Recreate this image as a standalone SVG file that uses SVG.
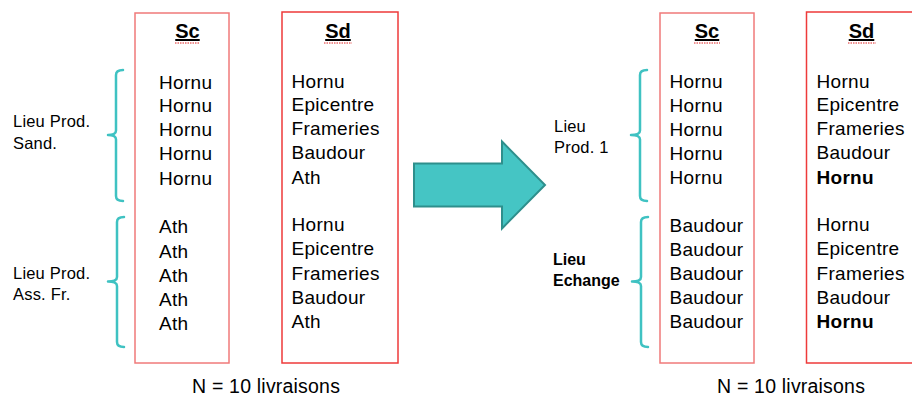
<svg xmlns="http://www.w3.org/2000/svg" width="912" height="396" viewBox="0 0 912 396">
<style>
  .sc { fill: none; stroke: #F07A7A; stroke-width: 1.5; }
  .sd { fill: none; stroke: #EE3A3A; stroke-width: 1.5; }
  .brace { fill: none; stroke: #3FC2C2; stroke-width: 2.5; stroke-linecap: round; stroke-linejoin: round; }
  text { font-family: "Liberation Sans", Arial, sans-serif; fill: #000; }
  .item { font-size: 19px; letter-spacing: 0.3px; }
  .title { font-size: 20px; font-weight: bold; text-anchor: middle; text-decoration: underline; }
  .lbl { font-size: 16.5px; letter-spacing: 0.2px; }
  .lblb { font-size: 16px; font-weight: bold; }
  .n { font-size: 19.5px; letter-spacing: 0.2px; }
  .b { font-weight: bold; }
  .squig { fill: none; stroke: #E02020; stroke-width: 1; stroke-dasharray: 1.5 1; }
</style>
<rect width="912" height="396" fill="#fff"/>

<g id="arrow">
  <path d="M414 163.5 L502 163.5 L502 141.5 L545 185 L502 228.5 L502 206.5 L414 206.5 Z" fill="#45C5C4" stroke="#2E8F8C" stroke-width="2"/>
</g>

<g id="connectors">
  <path class="brace" d="M123 70 Q116 70 116 75 L116 130.5 Q116 135 108 135 Q116 135 116 139.5 L116 196 Q116 201 123 201"/>
  <path class="brace" d="M124 217 Q117 217 117 222 L117 277 Q117 281.5 108 281.5 Q117 281.5 117 286 L117 342 Q117 347 124 347"/>
  <path class="brace" d="M647 70 Q640 70 640 75 L640 130.5 Q640 135 631 135 Q640 135 640 139.5 L640 196 Q640 201 647 201"/>
  <path class="brace" d="M648 217 Q641 217 641 222 L641 277 Q641 281.5 632 281.5 Q641 281.5 641 286 L641 342 Q641 347 648 347"/>
</g>

<g id="labels-left">
  <text class="lbl" x="13" y="126.5">Lieu Prod.</text>
  <text class="lbl" x="13" y="148.5">Sand.</text>
  <text class="lbl" x="13" y="278.5">Lieu Prod.</text>
  <text class="lbl" x="13" y="299.5">Ass. Fr.</text>
</g>

<g id="left-sc">
  <rect class="sc" x="135" y="13" width="94" height="350"/>
  <text class="title" x="187.5" y="38">Sc</text>
  <path class="squig" d="M175 43 L200 43"/>
  <text class="item" x="159" y="88.5">Hornu</text>
  <text class="item" x="159" y="112">Hornu</text>
  <text class="item" x="159" y="136">Hornu</text>
  <text class="item" x="159" y="160">Hornu</text>
  <text class="item" x="159" y="184.5">Hornu</text>
  <text class="item" x="159" y="233">Ath</text>
  <text class="item" x="159" y="257.5">Ath</text>
  <text class="item" x="159" y="282">Ath</text>
  <text class="item" x="159" y="306">Ath</text>
  <text class="item" x="159" y="330">Ath</text>
</g>

<g id="left-sd">
  <rect class="sd" x="282" y="12" width="116" height="351"/>
  <text class="title" x="338" y="38">Sd</text>
  <path class="squig" d="M324 43 L352 43"/>
  <text class="item" x="291.5" y="87.5">Hornu</text>
  <text class="item" x="291.5" y="111">Epicentre</text>
  <text class="item" x="291.5" y="134.5">Frameries</text>
  <text class="item" x="291.5" y="158.5">Baudour</text>
  <text class="item" x="291.5" y="183.5">Ath</text>
  <text class="item" x="291.5" y="231">Hornu</text>
  <text class="item" x="291.5" y="255">Epicentre</text>
  <text class="item" x="291.5" y="280">Frameries</text>
  <text class="item" x="291.5" y="304">Baudour</text>
  <text class="item" x="291.5" y="327.5">Ath</text>
</g>

<g id="labels-right">
  <text class="lbl" x="554" y="132">Lieu</text>
  <text class="lbl" x="554" y="152.5">Prod. 1</text>
  <text class="lblb" x="553" y="265">Lieu</text>
  <text class="lblb" x="553" y="285.5">Echange</text>
</g>

<g id="right-sc">
  <rect class="sc" x="660" y="13" width="94" height="350"/>
  <text class="title" x="707" y="38">Sc</text>
  <path class="squig" d="M694 43 L720 43"/>
  <text class="item" x="669.5" y="87.5">Hornu</text>
  <text class="item" x="669.5" y="111.5">Hornu</text>
  <text class="item" x="669.5" y="135.5">Hornu</text>
  <text class="item" x="669.5" y="159.5">Hornu</text>
  <text class="item" x="669.5" y="183.5">Hornu</text>
  <text class="item" x="669.5" y="231.5">Baudour</text>
  <text class="item" x="669.5" y="255.5">Baudour</text>
  <text class="item" x="669.5" y="280">Baudour</text>
  <text class="item" x="669.5" y="304">Baudour</text>
  <text class="item" x="669.5" y="328">Baudour</text>
</g>

<g id="right-sd">
  <rect class="sd" x="806.5" y="12" width="110" height="351"/>
  <text class="title" x="861.5" y="38">Sd</text>
  <path class="squig" d="M848 43 L876 43"/>
  <text class="item" x="816.5" y="87.5">Hornu</text>
  <text class="item" x="816.5" y="111">Epicentre</text>
  <text class="item" x="816.5" y="134.5">Frameries</text>
  <text class="item" x="816.5" y="158.5">Baudour</text>
  <text class="item b" x="816.5" y="183.5">Hornu</text>
  <text class="item" x="816.5" y="231">Hornu</text>
  <text class="item" x="816.5" y="255">Epicentre</text>
  <text class="item" x="816.5" y="280">Frameries</text>
  <text class="item" x="816.5" y="304">Baudour</text>
  <text class="item b" x="816.5" y="327.5">Hornu</text>
</g>

<g id="footer">
  <text class="n" x="192" y="393">N = 10 livraisons</text>
  <text class="n" x="717" y="393">N = 10 livraisons</text>
</g>
</svg>
